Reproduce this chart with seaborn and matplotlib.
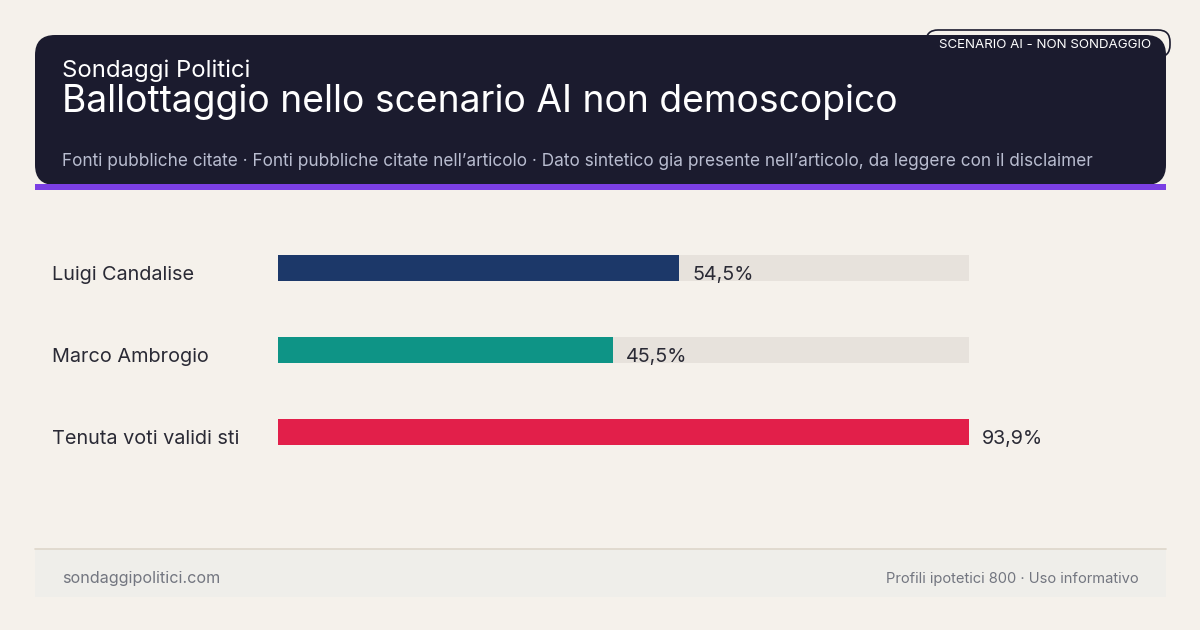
import numpy as np
import pandas as pd
import matplotlib
matplotlib.use('Agg')
import matplotlib.pyplot as plt
from matplotlib.patches import FancyBboxPatch, Rectangle
import seaborn as sns

# Data
candidati = ['Luigi Candalise', 'Marco Ambrogio', 'Tenuta voti validi sti']
valori = [54.5, 45.5, 93.9]
etichette = ['54,5%', '45,5%', '93,9%']
colori = ['#1c3869', '#0e9486', '#e21f4a']

BG = '#f5f1eb'
DARK = '#1b1b2e'
TEXT = '#2a2a35'

sns.set_theme(style='white')
plt.rcParams['font.family'] = ['Inter', 'DejaVu Sans']

W, H = 1200, 630
fig = plt.figure(figsize=(W / 100, H / 100), dpi=100)
fig.patch.set_facecolor(BG)

# background axes in pixel coordinates
bg = fig.add_axes([0, 0, 1, 1])
bg.set_xlim(0, W)
bg.set_ylim(H, 0)
bg.axis('off')
bg.set_facecolor(BG)

# header card
bg.add_patch(FancyBboxPatch((35, 35), 1131, 150, boxstyle='round,pad=0,rounding_size=20',
                            facecolor=DARK, edgecolor='none'))
bg.add_patch(Rectangle((35, 184), 1131, 6, facecolor='#7b3fe4', edgecolor='none'))

# badge
bg.add_patch(FancyBboxPatch((926, 30), 244, 27, boxstyle='round,pad=0,rounding_size=12',
                            facecolor='none', edgecolor=DARK, linewidth=1.2))
bg.text(1045, 44.5, 'SCENARIO AI - NON SONDAGGIO', color='white', fontsize=9.6,
        ha='center', va='center')

bg.text(62, 77, 'Sondaggi Politici', color='white', fontsize=17.2, ha='left', va='baseline')
bg.text(62, 112, 'Ballottaggio nello scenario AI non demoscopico', color='white',
        fontsize=26.8, ha='left', va='baseline')
bg.text(62, 166, "Fonti pubbliche citate · Fonti pubbliche citate nell\u2019articolo · "
        "Dato sintetico gia presente nell\u2019articolo, da leggere con il disclaimer",
        color='#b9bdd0', fontsize=12.4, ha='left', va='baseline')

# footer
bg.add_patch(Rectangle((35, 549), 1131, 48, facecolor='#efeeea', edgecolor='none'))
bg.plot([35, 1166], [548.5, 548.5], color='#ddd6ca', linewidth=1.2)
bg.text(62, 579, 'sondaggipolitici.com', color='#737680', fontsize=11.6, ha='left', va='center')
bg.text(1139, 579, 'Profili ipotetici 800 · Uso informativo', color='#737680', fontsize=10.6,
        ha='right', va='center')

# bar axes: x from 278 to 969 px, y from 227 to 473 px
x0, x1, y0, y1 = 278, 969, 227, 473
ax = fig.add_axes([x0 / W, 1 - y1 / H, (x1 - x0) / W, (y1 - y0) / H])
ax.patch.set_alpha(0)

df = pd.DataFrame({'candidato': candidati, 'valore': valori})
vmax = max(valori)
df_track = pd.DataFrame({'candidato': candidati, 'valore': [vmax] * len(candidati)})

sns.barplot(data=df_track, y='candidato', x='valore', color='#e7e2dc', width=0.305,
            saturation=1, linewidth=0, ax=ax, orient='h')
sns.barplot(data=df, y='candidato', x='valore', hue='candidato', palette=colori,
            width=0.305, saturation=1, linewidth=0, ax=ax, orient='h', legend=False)

ax.set_xlim(0, vmax)
ax.set_ylim(2.5, -0.5)
ax.axis('off')

px_per_unit = (x1 - x0) / vmax
for i, (v, lab) in enumerate(zip(valori, etichette)):
    ax.text(v + 13 / px_per_unit, i + 0.08, lab, color=TEXT, fontsize=14.2,
            ha='left', va='center')
    ax.text(-(x0 - 52) / px_per_unit, i + 0.08, candidati[i], color=TEXT, fontsize=14.3,
            ha='left', va='center', clip_on=False)

fig.savefig('out.png', dpi=100, facecolor=BG)
